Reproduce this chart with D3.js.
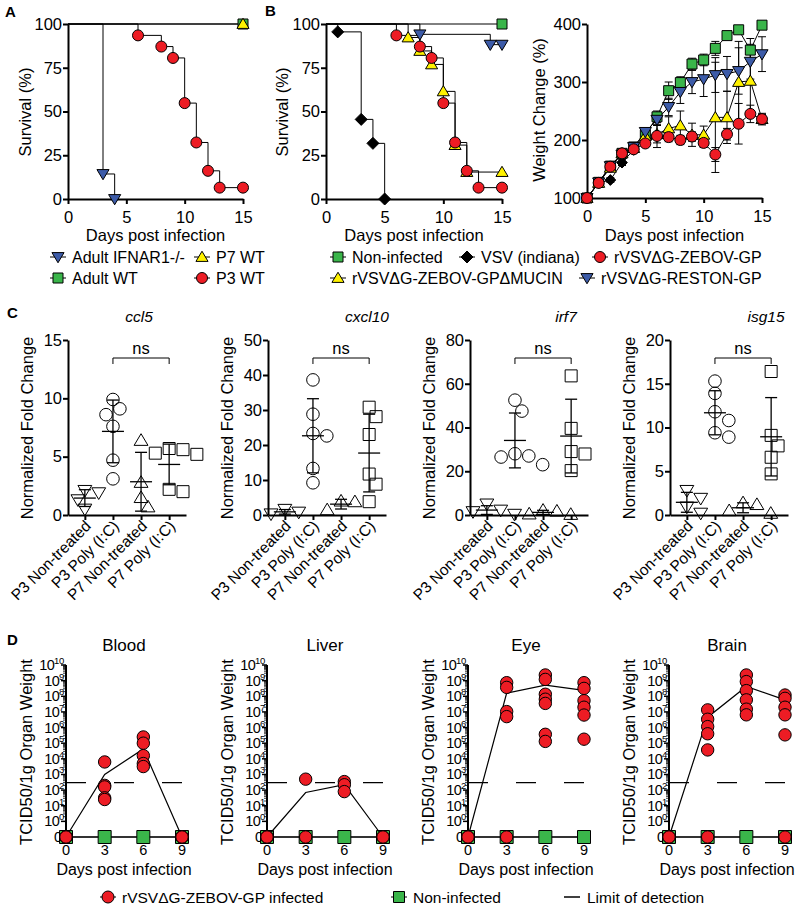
<!DOCTYPE html>
<html><head><meta charset="utf-8">
<script src="https://cdn.jsdelivr.net/npm/d3@7"></script>
<style>body{margin:0;background:#fff}</style>
</head><body><svg id="c" width="800" height="911"></svg>
<script>
// ================= DATA =================
// Panel A survival (%)
const aDaysIfnar=[0,3,4], aSurvIfnar=[100,14.3,0];
const aDaysAdultWT=[0,15], aSurvAdultWT=[100,100];
const aDaysP7=[0,15], aSurvP7=[100,100];
const aDaysP3=[0,6,8,9,10,11,12,13,15], aSurvP3=[100,93.5,87.1,80.6,54.8,32.3,16.1,6.5,6.5];
// Panel B survival (%)
const bDaysNon=[0,15], bSurvNon=[100,100];
const bDaysVSV=[0,1,3,4,5], bSurvVSV=[100,95.5,45.5,31.8,0];
const bDaysZebov=[0,6,8,9,10,11,12,13,15], bSurvZebov=[100,93.5,87.1,80.6,54.8,32.3,16.1,6.5,6.5];
const bDaysMucin=[0,7,8,9,10,11,12,15], bSurvMucin=[100,92.3,84.6,76.9,61.5,30.8,15.4,15.4];
const bDaysReston=[0,8,14,15], bSurvReston=[100,94.1,88.2,88.2];
// Panel B weight change (%)
const wDays=[0,1,2,3,4,5,6,7,8,9,10,11,12,13,14,15];
const wNon=[100,127,155,177,188,209,240,285,299,331,338,358,380,390,355,398];
const wNonErr=[0,3,4,5,5,5,10,15,10,10,10,12,5,5,20,0];
const wVSV=[100,126,131,161,183,null,null,null,null,null,null,null,null,null,null,null];
const wVSVErr=[0,3,4,5,5,0,0,0,0,0,0,0,0,0,0,0];
const wZebov=[100,126,154,177,184,194,207,205,200,206,195,175,210,228,245,236];
const wZebovErr=[0,3,4,5,5,5,20,8,8,8,8,12,10,35,15,8];
const wMucin=[100,126,152,177,186,207,210,220,225,209,209,239,239,300,302,236];
const wMucinErr=[0,3,4,5,5,6,15,20,25,20,15,95,45,70,60,10];
const wReston=[100,127,155,175,188,214,235,257,283,300,305,312,314,319,335,348];
const wRestonErr=[0,3,4,5,5,6,10,15,20,20,30,30,30,40,30,30];
// Panel C normalized fold change
const cCats=["P3 Non-treated","P3 Poly (I:C)","P7 Non-treated","P7 Poly (I:C)"];
const cGenes=["ccl5","cxcl10","irf7","isg15"];
const ccl5P3NT=[2.1,1.9,1.3,0.5], ccl5P3PIC=[9.9,9.1,8.6,7.6,4.7,3.1], ccl5P7NT=[6.4,2.8,1.5,0.7], ccl5P7PIC=[5.7,5.6,5.3,5.2,2.2,2.0];
const cxcl10P3NT=[1.6,0.8,0.3], cxcl10P3PIC=[38.6,28.8,23.3,22.6,13.3,9.2], cxcl10P7NT=[4.0,3.8,1.5], cxcl10P7PIC=[30.8,28.1,23.0,11.7,8.8,3.8];
const irf7P3NT=[5.0,2.2,1.5,0.3], irf7P3PIC=[52.5,47.5,28,27,26.5,23], irf7P7NT=[2.2,1.8,0.5,0.3], irf7P7PIC=[63.6,39.6,29,27.9,20.3];
const isg15P3NT=[2.8,1.9,0.9,0.2], isg15P3PIC=[15.3,13.9,11.8,10.8,9.4,8.9], isg15P7NT=[1.4,1.2,0.5,0.2], isg15P7PIC=[16.4,9.1,7.9,6.6,4.7];
const cYMax=[15,50,80,20];
const cTicks=[[0,5,10,15],[0,10,20,30,40,50],[0,20,40,60,80],[0,5,10,15,20]];
// Panel D TCID50 / 1g organ weight (0 = undetected)
const dOrgans=["Blood","Liver","Eye","Brain"];
const dDays=[0,3,6,9];
const bloodD0=[0,0,0,0,0], bloodD3=[6300,200,160,32,25], bloodD6=[2.5e5,1e5,1.6e4,5e3,3.2e3], bloodD9=[0,0,0,0];
const bloodMean=[0,1.0e3,4.3e4,0];
const liverD0=[0,0,0], liverD3=[500,0], liverD6=[350,220,80], liverD9=[0,0];
const liverMean=[0,70,220,0];
const eyeD0=[0,0], eyeD3=[7.4e8,3.7e8,1.05e7,5e6,0], eyeD6=[2.3e9,1.2e9,1.35e8,6.5e7,3.5e7,3.7e5,1.3e5], eyeD9=[7.4e8,3.2e8,5.2e7,2e7,6.3e6,1.8e5];
const eyeMean=[0,1.6e8,5.2e8,2.4e8];
const brainD0=[0,0], brainD3=[1.35e7,3.4e6,1.15e6,4e5,3.7e4,0], brainD6=[2.3e9,8.7e8,2.3e8,5.9e7,1.5e7,6.5e6], brainD9=[1.2e8,7.4e7,2e7,6.5e6,3.4e5,0];
const brainMean=[0,4.6e6,4.2e8,5.9e7];
const dNonInfected=[0,0,0,0];
const dLimit=300;
const dExps=[0,1,2,3,4,5,6,7,8,9,10];

// ================= STYLE / LAYOUT =================
const FONT='"Liberation Sans", Arial, Helvetica, sans-serif';
const RED="#ed1c24",GREEN="#3ab54a",YELLOW="#fff200",BLUE="#3c5ba8",BLACK="#000";
const svg=d3.select('#c');
svg.append('rect').attr('width',800).attr('height',911).attr('fill','#fff');

function symPath(type,s){
  switch(type){
    case 'circle': return `M${s},0A${s},${s} 0 1,1 ${-s},0A${s},${s} 0 1,1 ${s},0Z`;
    case 'square': return `M${-s},${-s}H${s}V${s}H${-s}Z`;
    case 'tup': return `M0,${-s*1.05}L${s*1.1},${s*0.8}L${-s*1.1},${s*0.8}Z`;
    case 'tdown': return `M0,${s*1.05}L${s*1.1},${-s*0.8}L${-s*1.1},${-s*0.8}Z`;
    case 'diamond': return `M0,${-s*1.2}L${s*1.2},0L0,${s*1.2}L${-s*1.2},0Z`;
  }
}
function marker(g,type,x,y,s,fill,sw){
  g.append('path').attr('d',symPath(type,s)).attr('transform',`translate(${x},${y})`)
   .attr('fill',fill).attr('stroke','#000').attr('stroke-width',sw||1);
}
function txt(g,x,y,t,o){
  o=o||{};
  const e=g.append('text').attr('x',x).attr('y',y).text(t)
   .attr('font-family',FONT).attr('font-size',o.fs||16).attr('fill','#000')
   .attr('text-anchor',o.anchor||'start');
  if(o.weight) e.attr('font-weight',o.weight);
  if(o.style) e.attr('font-style',o.style);
  if(o.rot) e.attr('transform',`rotate(${o.rot},${x},${y})`);
  return e;
}
function styleAxis(g,fs){
  g.attr('font-family',FONT);
  g.select('.domain').attr('stroke','#000').attr('stroke-width',2);
  g.selectAll('.tick line').attr('stroke','#000').attr('stroke-width',2);
  g.selectAll('.tick text').attr('font-size',fs||16).attr('fill','#000');
}
function hLegendItem(g,x,y,type,s,fill,label,fs){
  g.append('line').attr('x1',x-8).attr('x2',x+8).attr('y1',y).attr('y2',y).attr('stroke','#000').attr('stroke-width',1);
  marker(g,type,x,y,s,fill);
  txt(g,x+14,y+5.5,label,{fs:fs||16});
}

// panel letters
txt(svg,5,17,'A',{fs:15,weight:'bold'});
txt(svg,265,16,'B',{fs:15,weight:'bold'});
txt(svg,7,318,'C',{fs:15,weight:'bold'});
txt(svg,7,645,'D',{fs:15,weight:'bold'});

// ================= SURVIVAL PANELS =================
function survivalPanel(x0,x1,labelX,series){
  const g=svg.append('g');
  const x=d3.scaleLinear([0,15],[x0,x1]);
  const y=d3.scaleLinear([0,100],[199,24]);
  const line=d3.line().x(d=>x(d[0])).y(d=>y(d[1])).curve(d3.curveStepAfter);
  series.forEach(s=>{
    const pts=s.days.map((d,i)=>[d,s.surv[i]]);
    g.append('path').attr('d',line(pts)).attr('fill','none').attr('stroke','#000').attr('stroke-width',1);
  });
  const ax=g.append('g').attr('transform','translate(0,199)')
    .call(d3.axisBottom(x).tickValues([0,5,10,15]).tickSize(5).tickPadding(7).tickSizeOuter(0));
  styleAxis(ax,16.5);
  const ay=g.append('g').attr('transform',`translate(${x0},0)`)
    .call(d3.axisLeft(y).tickValues([0,25,50,75,100]).tickSize(5).tickPadding(1).tickSizeOuter(0));
  styleAxis(ay,16.5);
  series.forEach(s=>{
    s.days.forEach((d,i)=>{ if(i>0) marker(g,s.type,x(d),y(s.surv[i]),s.size,s.fill); });
  });
  txt(g,labelX,112,'Survival (%)',{fs:16.5,anchor:'middle',rot:-90});
  txt(g,(x0+x1)/2,241,'Days post infection',{fs:16.5,anchor:'middle'});
}
survivalPanel(68,243,31,[
  {days:aDaysIfnar,surv:aSurvIfnar,type:'tdown',fill:BLUE,size:5.5},
  {days:aDaysP3,surv:aSurvP3,type:'circle',fill:RED,size:5.5},
  {days:aDaysAdultWT,surv:aSurvAdultWT,type:'square',fill:GREEN,size:5},
  {days:aDaysP7,surv:aSurvP7,type:'tup',fill:YELLOW,size:5.5}
]);
survivalPanel(326,502,288,[
  {days:bDaysNon,surv:bSurvNon,type:'square',fill:GREEN,size:5},
  {days:bDaysVSV,surv:bSurvVSV,type:'diamond',fill:BLACK,size:5},
  {days:bDaysReston,surv:bSurvReston,type:'tdown',fill:BLUE,size:5.5},
  {days:bDaysMucin,surv:bSurvMucin,type:'tup',fill:YELLOW,size:5.5},
  {days:bDaysZebov,surv:bSurvZebov,type:'circle',fill:RED,size:5.5}
]);

// legend A
{
  const g=svg.append('g');
  hLegendItem(g,58,257,'tdown',5.5,BLUE,'Adult IFNAR1-/-',16);
  hLegendItem(g,58,278,'square',5,GREEN,'Adult WT',16);
  hLegendItem(g,202,257,'tup',5.5,YELLOW,'P7 WT',16);
  hLegendItem(g,202,278,'circle',5.5,RED,'P3 WT',16);
}
// legend B
{
  const g=svg.append('g');
  hLegendItem(g,338,257,'square',5,GREEN,'Non-infected',16);
  hLegendItem(g,467,257,'diamond',5,BLACK,'VSV (indiana)',16);
  hLegendItem(g,600,257,'circle',5.5,RED,'rVSVΔG-ZEBOV-GP',16);
  hLegendItem(g,338,278,'tup',5.5,YELLOW,'rVSVΔG-ZEBOV-GPΔMUCIN',16);
  hLegendItem(g,587,278,'tdown',5.5,BLUE,'rVSVΔG-RESTON-GP',16);
}

// ================= WEIGHT PANEL =================
{
  const g=svg.append('g');
  const x=d3.scaleLinear([0,15],[587,762]);
  const y=d3.scaleLinear([100,400],[198,24]);
  const series=[
    {v:wVSV,e:wVSVErr,type:'diamond',fill:BLACK,size:4.5},
    {v:wNon,e:wNonErr,type:'square',fill:GREEN,size:5},
    {v:wMucin,e:wMucinErr,type:'tup',fill:YELLOW,size:5.5},
    {v:wReston,e:wRestonErr,type:'tdown',fill:BLUE,size:5.5},
    {v:wZebov,e:wZebovErr,type:'circle',fill:RED,size:5.5}
  ];
  series.forEach(s=>{
    s.v.forEach((v,i)=>{
      if(v==null||!s.e[i]) return;
      const xx=x(wDays[i]);
      g.append('line').attr('x1',xx).attr('x2',xx).attr('y1',y(v-s.e[i])).attr('y2',y(v+s.e[i])).attr('stroke','#000').attr('stroke-width',1);
      [v-s.e[i],v+s.e[i]].forEach(c=>g.append('line').attr('x1',xx-4).attr('x2',xx+4).attr('y1',y(c)).attr('y2',y(c)).attr('stroke','#000').attr('stroke-width',1));
    });
  });
  const line=d3.line().defined(d=>d[1]!=null).x(d=>x(d[0])).y(d=>y(d[1]));
  series.forEach(s=>{
    g.append('path').attr('d',line(wDays.map((d,i)=>[d,s.v[i]]))).attr('fill','none').attr('stroke','#000').attr('stroke-width',1);
  });
  const ax=g.append('g').attr('transform','translate(0,198)')
    .call(d3.axisBottom(x).tickValues([0,5,10,15]).tickSize(5).tickPadding(7).tickSizeOuter(0));
  styleAxis(ax,16.5);
  const ay=g.append('g').attr('transform','translate(587,0)')
    .call(d3.axisLeft(y).tickValues([100,200,300,400]).tickSize(5).tickPadding(1).tickSizeOuter(0));
  styleAxis(ay,16.5);
  series.forEach(s=>{
    s.v.forEach((v,i)=>{ if(v!=null) marker(g,s.type,x(wDays[i]),y(v),s.size,s.fill); });
  });
  txt(g,545,110,'Weight Change (%)',{fs:16.5,anchor:'middle',rot:-90});
  txt(g,674.5,241,'Days post infection',{fs:16.5,anchor:'middle'});
}

// ================= PANEL C =================
{
  const cData=[
    [ccl5P3NT,ccl5P3PIC,ccl5P7NT,ccl5P7PIC],
    [cxcl10P3NT,cxcl10P3PIC,cxcl10P7NT,cxcl10P7PIC],
    [irf7P3NT,irf7P3PIC,irf7P7NT,irf7P7PIC],
    [isg15P3NT,isg15P3PIC,isg15P7NT,isg15P7PIC]
  ];
  const shapes=['tdown','circle','tup','square'];
  const offs=[0,200,402,602];
  const titleX=[139,367,566,766];
  function swarm(vals,y,r){
    const placed=[];
    return vals.map(v=>{
      const py=y(v); let off=0;
      for(let i=0;i<30;i++){
        const cand=i===0?0:(i%2?1:-1)*Math.ceil(i/2)*r*1.1;
        if(placed.every(p=>Math.hypot(p[0]-cand,p[1]-py)>=2*r-1)){off=cand;break;}
      }
      placed.push([off,py]); return off;
    });
  }
  cGenes.forEach((gene,k)=>{
    const ox=offs[k];
    const g=svg.append('g');
    const y=d3.scaleLinear([0,cYMax[k]],[515,340]);
    const x=d3.scalePoint(cCats,[68+ox,186+ox]).padding(0.6);
    const ay=g.append('g').attr('transform',`translate(${68+ox},0)`)
      .call(d3.axisLeft(y).tickValues(cTicks[k]).tickSize(5).tickPadding(1).tickSizeOuter(0));
    styleAxis(ay,16.5);
    const ax=g.append('g').attr('transform','translate(0,515)')
      .call(d3.axisBottom(x).tickSize(5).tickSizeOuter(0).tickFormat(''));
    styleAxis(ax,16);
    cCats.forEach(c=>{
      txt(g,x(c)+7,527,c,{fs:15.5,anchor:'end',rot:-45});
    });
    txt(g,titleX[k],322,gene,{fs:15.5,anchor:'middle',style:'italic'});
    // ns bracket
    const bx1=x(cCats[1]),bx2=x(cCats[3]);
    g.append('path').attr('d',`M${bx1},364V358H${bx2}V364`).attr('fill','none').attr('stroke','#000').attr('stroke-width',1);
    txt(g,(bx1+bx2)/2,354,'ns',{fs:16.5,anchor:'middle'});
    cData[k].forEach((vals,ci)=>{
      const cx=x(cCats[ci]);
      const r=6.3;
      const offsArr=swarm(vals,y,r);
      vals.forEach((v,i)=>{
        g.append('path').attr('d',symPath(shapes[ci],shapes[ci]==='square'?6:6.3))
          .attr('transform',`translate(${cx+offsArr[i]},${y(v)})`)
          .attr('fill','none').attr('stroke','#000').attr('stroke-width',1);
      });
      const m=d3.mean(vals), sd=d3.deviation(vals);
      g.append('line').attr('x1',cx-11).attr('x2',cx+11).attr('y1',y(m)).attr('y2',y(m)).attr('stroke','#000').attr('stroke-width',1.3);
      g.append('line').attr('x1',cx).attr('x2',cx).attr('y1',y(Math.max(m-sd,0))).attr('y2',y(m+sd)).attr('stroke','#000').attr('stroke-width',1.3);
      [m-sd,m+sd].forEach(c=>{ if(c>0) g.append('line').attr('x1',cx-6).attr('x2',cx+6).attr('y1',y(c)).attr('y2',y(c)).attr('stroke','#000').attr('stroke-width',1.3); });
    });
    txt(g,33+ox,428,'Normalized Fold Change',{fs:16.5,anchor:'middle',rot:-90});
  });
}

// ================= PANEL D =================
{
  const dData=[
    {pts:[bloodD0,bloodD3,bloodD6,bloodD9],mean:bloodMean},
    {pts:[liverD0,liverD3,liverD6,liverD9],mean:liverMean},
    {pts:[eyeD0,eyeD3,eyeD6,eyeD9],mean:eyeMean},
    {pts:[brainD0,brainD3,brainD6,brainD9],mean:brainMean}
  ];
  const yl=d3.scaleLinear([-1,10],[837,665]);
  const yv=v=>yl(v>0?Math.log10(v):-1);
  dOrgans.forEach((org,k)=>{
    const ox=Math.round(201*k);
    const g=svg.append('g');
    const x=d3.scaleLinear([0,9],[66+ox,182+ox]);
    // LOD dashed line
    g.append('line').attr('x1',x(0)).attr('x2',x(9)+2).attr('y1',yv(dLimit)).attr('y2',yv(dLimit))
      .attr('stroke','#000').attr('stroke-width',1.2).attr('stroke-dasharray','20,28');
    // y axis
    const ax0=66+ox;
    g.append('line').attr('x1',ax0).attr('x2',ax0).attr('y1',665).attr('y2',837).attr('stroke','#000').attr('stroke-width',2);
    dExps.forEach(e=>{
      g.append('line').attr('x1',ax0-5).attr('x2',ax0).attr('y1',yl(e)).attr('y2',yl(e)).attr('stroke','#000').attr('stroke-width',1.5);
      if(e<10){
        for(let m=2;m<=9;m++){
          const yy=yl(e+Math.log10(m));
          g.append('line').attr('x1',ax0-3).attr('x2',ax0).attr('y1',yy).attr('y2',yy).attr('stroke','#000').attr('stroke-width',0.8);
        }
      }
      const t=g.append('text').attr('x',ax0-2).attr('y',yl(e)+5).attr('text-anchor','end')
        .attr('font-family',FONT).attr('font-size',14.5).attr('letter-spacing',-0.7).attr('fill','#000');
      t.append('tspan').text('10');
      t.append('tspan').attr('dy',-6).attr('font-size',9.5).attr('letter-spacing',-0.3).text(e);
    });
    g.append('line').attr('x1',ax0-5).attr('x2',ax0).attr('y1',yl(-1)).attr('y2',yl(-1)).attr('stroke','#000').attr('stroke-width',1.5);
    txt(g,ax0-4,yl(-1)+5,'0',{fs:14.5,anchor:'end'});
    // x axis
    g.append('line').attr('x1',x(0)).attr('x2',x(9)).attr('y1',837).attr('y2',837).attr('stroke','#000').attr('stroke-width',2);
    dDays.forEach(d=>{
      g.append('line').attr('x1',x(d)).attr('x2',x(d)).attr('y1',837).attr('y2',843).attr('stroke','#000').attr('stroke-width',1.5);
      txt(g,x(d),855,String(d),{fs:14.5,anchor:'middle'});
    });
    txt(g,(x(0)+x(9))/2,875,'Days post infection',{fs:16,anchor:'middle'});
    txt(g,(x(0)+x(9))/2,651,org,{fs:17,anchor:'middle'});
    txt(g,32+ox,752,'TCID50/1g Organ Weight',{fs:16.5,anchor:'middle',rot:-90});
    // non-infected line + squares
    const ln=d3.line().x((d,i)=>x(dDays[i])).y(d=>yv(d));
    g.append('path').attr('d',ln(dNonInfected)).attr('fill','none').attr('stroke','#666').attr('stroke-width',1);
    dNonInfected.forEach((v,i)=>marker(g,'square',x(dDays[i]),yv(v),6.5,GREEN));
    // mean line
    g.append('path').attr('d',ln(dData[k].mean)).attr('fill','none').attr('stroke','#000').attr('stroke-width',1.2);
    dData[k].pts.forEach((vals,i)=>{
      vals.forEach(v=>marker(g,'circle',x(dDays[i]),yv(v),6.2,RED));
    });
  });
  // legend D
  const g=svg.append('g');
  hLegendItem(g,108,897,'circle',6,RED,'rVSVΔG-ZEBOV-GP infected',15.5);
  hLegendItem(g,399,897,'square',5.5,GREEN,'Non-infected',15.5);
  g.append('line').attr('x1',564).attr('x2',580).attr('y1',897).attr('y2',897).attr('stroke','#000').attr('stroke-width',1.5);
  txt(g,587,902.5,'Limit of detection',{fs:15.5});
}
</script></body></html>
